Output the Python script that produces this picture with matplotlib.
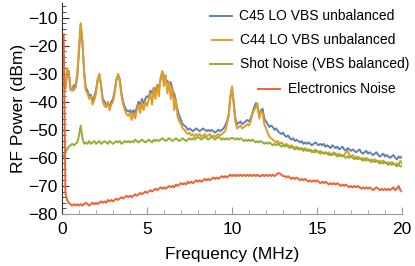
import numpy as np
import matplotlib
matplotlib.use("Agg")
import matplotlib.pyplot as plt
from matplotlib.ticker import MultipleLocator

plt.rcParams['font.family'] = ['Liberation Sans', 'DejaVu Sans']

# frequency grid (MHz): 0.1 ... 20.0
freq = np.round(np.arange(1, 201) * 0.1, 2)

c45 = [
    -33.5, -35, -30, -29, -35, -36, -34, -35, -31, -22,
    -12.5, -19, -29, -35, -36, -38, -37.5, -40, -38, -36,
    -32, -30.5, -34, -39, -40, -41, -40.5, -42, -40, -39,
    -36, -32, -30.5, -32, -37, -40, -42, -43, -43.5, -43,
    -44, -43, -44, -42, -40, -41, -39, -40.5, -39, -38,
    -38.5, -36, -37, -35, -36, -34, -35, -32, -29.5, -31,
    -33, -32.5, -34, -33, -36, -37, -40, -43, -45, -46.5,
    -48, -48.5, -49, -50, -49.5, -50, -50.5, -50, -49.5, -50,
    -50.5, -50, -49.5, -50, -50.5, -50, -50.5, -50, -50.5, -51,
    -50.5, -50, -50.5, -50, -49.5, -48.5, -47, -45, -39, -35,
    -40, -46, -48, -47.5, -47, -48, -47.5, -47, -46.5, -47,
    -46, -44, -42, -40.5, -42, -45, -43, -42.5, -46, -47,
    -48, -49, -48.5, -49, -50, -49.5, -50.5, -51, -51.5, -51,
    -52, -52.5, -52, -53, -53.5, -53, -54, -53.5, -54, -54.5,
    -54, -55, -54.5, -55, -54.5, -55, -55.5, -55, -54.5, -55,
    -55.5, -55, -55.5, -55, -56, -55.5, -56, -56.5, -55.5, -56,
    -56.5, -56, -57, -56.5, -56, -57, -57.5, -56.5, -57, -57.5,
    -57, -57.5, -58, -57.5, -57, -58, -58.5, -58, -57.5, -58.5,
    -58, -58.5, -59, -58.5, -58, -59, -59.5, -59, -58.5, -59.5,
    -59, -59.5, -60, -59.5, -59, -60, -60.5, -59.5, -60, -59.5,
]

c44 = [
    -33, -35.5, -28, -30, -36, -35.5, -36, -34, -30, -21,
    -12, -18, -30, -36, -37, -39, -38, -41, -39.5, -37,
    -32, -30, -35, -40, -41.5, -42, -40, -43, -41, -40,
    -37, -32.5, -30, -33, -38, -41, -43, -44.5, -45, -44,
    -46.5, -44, -46, -43, -41, -44, -40, -43, -40, -41.5,
    -39, -37, -41, -35, -39, -34, -38, -31.5, -29, -34.5,
    -30.5, -37, -33, -39, -35, -43, -39, -45.5, -47, -48,
    -49.5, -50, -51, -51.5, -51, -52, -51.5, -52.5, -51.5, -52,
    -51.5, -52.5, -52, -51.5, -52.5, -52, -51.5, -52.5, -52, -52.5,
    -52, -51.5, -52, -51.5, -51, -50.5, -48, -45, -38, -34.5,
    -41, -47, -49.5, -49, -48.5, -49.5, -49, -48.5, -48, -48.5,
    -47, -44.5, -43, -42, -40.5, -46, -43.5, -44, -48, -49.5,
    -51, -52.5, -53, -53.5, -54, -54.5, -54, -55, -54.5, -55,
    -55.5, -55, -55.5, -56, -55.5, -56, -56.5, -56, -56.5, -57,
    -56.5, -57, -56.5, -57, -57.5, -57, -57.5, -58, -57, -57.5,
    -58, -57.5, -58, -58.5, -58, -58.5, -58, -59, -58.5, -58,
    -58.5, -59, -58.5, -59, -59.5, -59, -58, -57.5, -59, -59.5,
    -59, -59.5, -60, -59.5, -60, -60.5, -60, -60.5, -60, -60.5,
    -61, -60.5, -61, -60.5, -61, -61.5, -61, -61.5, -61, -61.5,
    -62, -61.5, -62, -61.5, -62, -62.5, -62, -62.5, -61, -62,
]

shot = [
    -59.5, -58, -57, -56, -55.5, -55, -55.5, -55, -54.5, -52,
    -48.5, -53, -55, -54.5, -55, -54, -55, -54.5, -54, -55,
    -54.5, -54, -55, -54.5, -54, -54.5, -55, -54, -54.5, -55,
    -54.5, -54, -54.5, -54, -55, -54.5, -54, -54.5, -54, -54.5,
    -54, -54.5, -53.5, -54, -54.5, -54, -53.5, -54, -54.5, -54,
    -53.5, -54, -54.5, -53.5, -54, -53.5, -54, -53.5, -53, -53.5,
    -54, -53.5, -53, -53.5, -54, -53.5, -53, -53.5, -54, -53.5,
    -53, -53.5, -54, -53.5, -53, -53.5, -53, -53.5, -53, -52.5,
    -53, -53.5, -53, -52.5, -53, -53.5, -53, -52.5, -53, -53.5,
    -53, -52.5, -53, -53.5, -53, -53.5, -53, -53.5, -53, -53,
    -53, -53.5, -53, -53.5, -53, -53.5, -54, -53.5, -54, -53.5,
    -54, -53.5, -54, -54.5, -54, -54.5, -54, -54.5, -55, -54.5,
    -55, -54.5, -55, -55.5, -55, -55.5, -55, -55.5, -56, -55.5,
    -56, -55.5, -56, -56.5, -56, -56.5, -57, -56.5, -57, -56.5,
    -57, -57.5, -57, -57.5, -57, -57.5, -58, -57.5, -58, -57.5,
    -58, -58.5, -58, -58.5, -58, -58.5, -59, -58.5, -59, -58.5,
    -59, -59.5, -59, -59.5, -59, -59.5, -60, -59.5, -60, -59.5,
    -60, -60.5, -60, -60.5, -60, -60.5, -61, -60.5, -61, -60.5,
    -61, -61.5, -61, -61.5, -61, -61.5, -62, -61.5, -62, -61.5,
    -62, -62.5, -62, -62.5, -62, -62.5, -63, -62.5, -63, -63,
]

elec = [
    -16, -72.5, -75, -76, -76.5, -77, -76.5, -77, -76.5, -77,
    -76.5, -77, -76.5, -76, -76.5, -77, -76.5, -76, -76.5, -76,
    -76.5, -76, -75.5, -76, -75.5, -76, -75, -75.5, -75, -75.5,
    -75, -74.5, -75, -74.5, -74, -74.5, -74, -73.5, -74, -73.5,
    -74, -73.5, -73, -73.5, -73, -72.5, -73, -72.5, -72, -72.5,
    -72, -71.5, -72, -71.5, -71, -71.5, -71, -70.5, -71, -70.5,
    -71, -70.5, -70, -70.5, -70, -70.5, -69.5, -70, -69.5, -69,
    -69.5, -69, -69.5, -68.5, -69, -68.5, -69, -68.5, -68, -68.5,
    -68, -68.5, -68, -67.5, -68, -67.5, -68, -67.5, -67, -67.5,
    -67, -67.5, -67, -66.5, -67, -66.5, -67, -66.5, -66, -66.5,
    -66, -66.5, -66, -66.5, -66, -66.5, -66, -66.5, -66, -66.5,
    -66, -66.5, -66, -66.5, -66, -66.5, -66.5, -66, -66.5, -66,
    -66.5, -66, -66.5, -66, -66.5, -66, -65.5, -65.5, -66, -66.5,
    -66.5, -67, -66.5, -67, -67.5, -67, -67.5, -67, -67.5, -68,
    -67.5, -68, -67.5, -68, -68.5, -68, -68.5, -68, -68.5, -68,
    -68.5, -69, -68.5, -69, -68.5, -69, -69.5, -69, -69.5, -69,
    -69.5, -69, -69.5, -70, -69.5, -70, -69.5, -70, -70.5, -70,
    -70.5, -70, -70.5, -70, -70.5, -71, -70.5, -71, -70.5, -71,
    -70.5, -71, -71.5, -71, -70.5, -71, -71.5, -71, -71.5, -71,
    -71.5, -71, -71.5, -71, -70.5, -71.5, -71, -70, -71.5, -72,
]

labels = ["C45 LO VBS unbalanced", "C44 LO VBS unbalanced",
          "Shot Noise (VBS balanced)", "Electronics Noise"]
colors = ["#5E81B5", "#E19C24", "#8FB032", "#EB6235"]

fig = plt.figure(figsize=(4.15, 2.66), dpi=100)
ax = fig.add_axes([62/415, 1 - 214/266, 340/415, 211/266])

for ys, c in zip([c45, c44, shot, elec], colors):
    ax.plot(freq, ys, color=c, lw=1.4)

ax.set_xlim(0, 20)
ax.set_ylim(-80, -4.8)
ax.xaxis.set_major_locator(MultipleLocator(5))
ax.xaxis.set_minor_locator(MultipleLocator(1))
ax.yaxis.set_major_locator(MultipleLocator(10))
ax.yaxis.set_minor_locator(MultipleLocator(2))

for s in ['top', 'right']:
    ax.spines[s].set_visible(False)
ax.spines['left'].set_color('#333333')
ax.spines['bottom'].set_color('#999999')
ax.tick_params(axis='both', which='both', direction='in', labelsize=12.5)
ax.tick_params(axis='x', which='major', length=5, color='#999999', pad=6)
ax.tick_params(axis='x', which='minor', length=3, color='#999999')
ax.tick_params(axis='y', which='major', length=5, color='#333333', pad=3)
ax.tick_params(axis='y', which='minor', length=3, color='#333333')

ax.set_xlabel("Frequency (MHz)", fontsize=12.5, labelpad=7)
ax.set_ylabel("RF Power (dBm)", fontsize=12.5, labelpad=2)

# legend (manual placement, figure pixel coordinates)
leg_rows = [(210, 232, 239, 16), (212, 232, 240, 40), (210, 232, 240, 64), (258, 280, 288, 89)]
for (x0, x1, xt, yr), lab, c in zip(leg_rows, labels, colors):
    fig.lines.append(plt.Line2D([x0/415, x1/415], [1 - yr/266, 1 - yr/266],
                                color=c, lw=1.4, transform=fig.transFigure))
    fig.text(xt/415, 1 - yr/266, lab, fontsize=10, va='center', ha='left')

fig.savefig("out.png", dpi=100)
